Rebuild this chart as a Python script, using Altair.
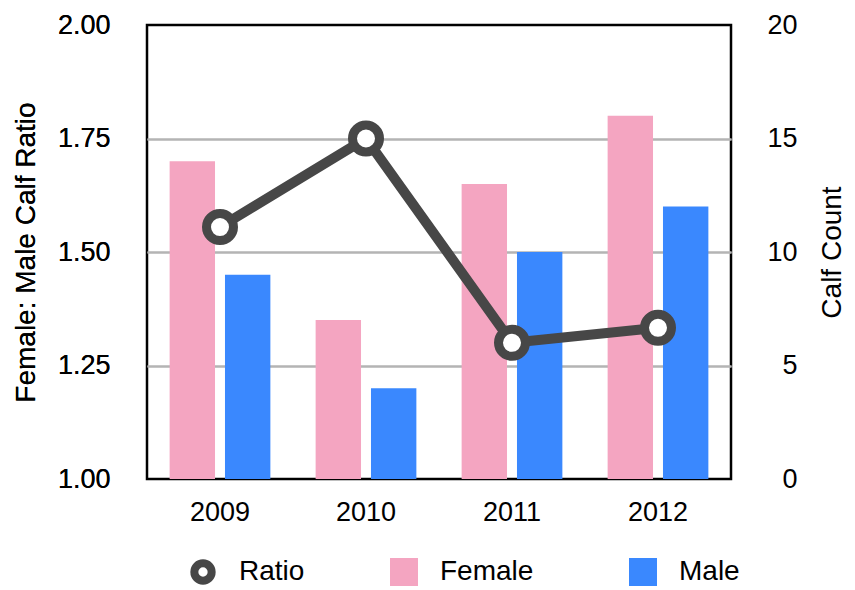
import altair as alt
import pandas as pd

years = ["2009", "2010", "2011", "2012"]
female = [14, 7, 13, 16]
male = [9, 4, 10, 12]
ratio = [1.555, 1.75, 1.30, 1.333]
series_bars = ["Female", "Male"]
bar_colors = ["#F4A5C1", "#3A88FE"]
line_color = "#474747"

bars_df = pd.DataFrame({
    "year": years * 2,
    "series": ["Female"] * len(years) + ["Male"] * len(years),
    "count": female + male,
})
ratio_df = pd.DataFrame({"year": years, "ratio": ratio, "series": ["Ratio"] * len(years)})

FONT = "Liberation Sans"
xscale = alt.Scale(type="band", paddingInner=0.31, paddingOuter=0.155)
xaxis = alt.Axis(title=None, domain=False, ticks=False, tickSize=0, labelAngle=0,
                 labelFontSize=27, labelBaseline="alphabetic", labelPadding=41, grid=False)

bars = alt.Chart(bars_df).mark_bar().encode(
    x=alt.X("year:N", scale=xscale, axis=xaxis),
    xOffset=alt.XOffset("series:N", sort=series_bars,
                        scale=alt.Scale(paddingInner=0.18, paddingOuter=0)),
    y=alt.Y("count:Q", scale=alt.Scale(domain=[0, 20], nice=False),
            axis=alt.Axis(orient="right", title="Calf Count", values=[0, 5, 10, 15, 20],
                          format="d", grid=False, domain=False, ticks=False, tickSize=0,
                          labelAlign="right", labelPadding=66, labelFontSize=27,
                          titleAngle=270, titleX=109, titleY=227, titleBaseline="alphabetic",
                          titleAlign="center", titleFontSize=28)),
    color=alt.Color("series:N", scale=alt.Scale(domain=series_bars, range=bar_colors),
                    legend=alt.Legend(title=None, orient="none", legendX=243, legendY=533,
                                      direction="horizontal", symbolType="square",
                                      symbolSize=784, symbolStrokeWidth=0, labelFontSize=28,
                                      labelOffset=22, columnPadding=95, padding=0)),
)

ratio_y = alt.Y("ratio:Q", scale=alt.Scale(domain=[1, 2], nice=False),
                axis=alt.Axis(orient="left", title="Female: Male Calf Ratio",
                              values=[1.0, 1.25, 1.5, 1.75, 2.0], format=".2f",
                              grid=True,
                              gridColor={"condition": {"test": "datum.value <= 1 || datum.value >= 2",
                                                       "value": "transparent"},
                                         "value": "#B4B4B4"},
                              gridWidth=2,
                              domain=False, ticks=False, tickSize=0, labelPadding=37,
                              labelFontSize=27, titleAngle=270, titleX=-113, titleY=227,
                              titleBaseline="alphabetic", titleAlign="center",
                              titleFontSize=28))

line = alt.Chart(ratio_df).mark_line(color=line_color, strokeWidth=10).encode(
    x=alt.X("year:N", scale=xscale, axis=xaxis),
    y=ratio_y,
)

points = alt.Chart(ratio_df).mark_point(filled=False, fill="white", opacity=1,
                                         strokeWidth=9, size=729, shape="circle").encode(
    x=alt.X("year:N", scale=xscale, axis=xaxis),
    y=ratio_y,
    stroke=alt.Stroke("series:N", scale=alt.Scale(domain=["Ratio"], range=[line_color]),
                      legend=alt.Legend(title=None, orient="none", legendX=42, legendY=533,
                                        symbolType="circle", symbolSize=300,
                                        symbolStrokeWidth=8, symbolFillColor="white",
                                        labelFontSize=28, labelOffset=22, padding=0)),
)

chart = alt.layer(bars, line, points).resolve_scale(y="independent").properties(
    width=584, height=454,
    autosize=alt.AutoSizeParams(type="none"),
    padding={"left": 139, "top": 17, "right": 116, "bottom": 109},
).configure(font=FONT).configure_view(
    stroke="black", strokeWidth=2.5
).configure_axis(
    labelColor="black", titleColor="black", titleFontWeight="normal", labelFont=FONT, titleFont=FONT
).configure_legend(labelColor="black", labelFont=FONT)

chart.save("out.html", embed_options={"renderer": "svg", "actions": False})
